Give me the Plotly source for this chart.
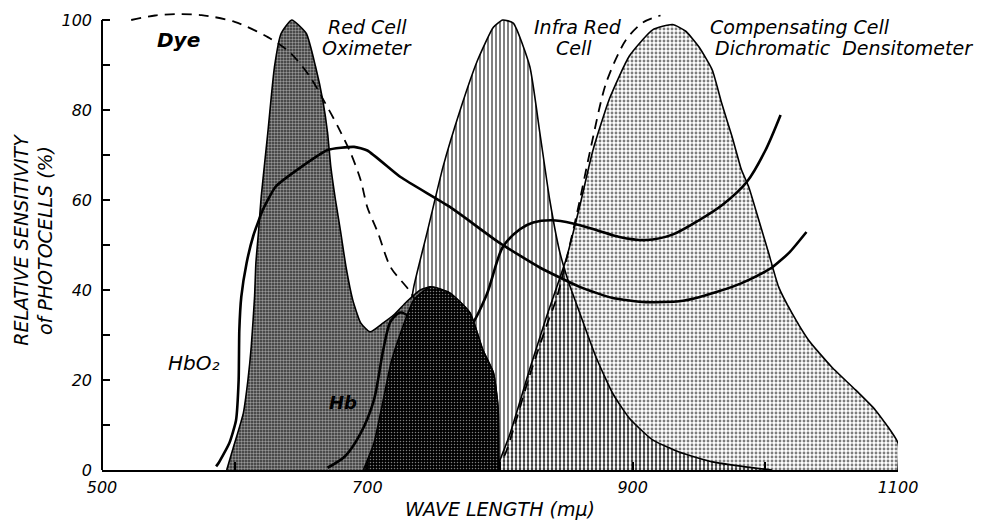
import plotly.graph_objects as go

# ---------------- data ----------------
# Compensating Cell (Dichromatic Densitometer) sensitivity
comp_x = [797, 807.5, 822.5, 835, 850, 860, 870, 882.5, 897.5, 915, 930, 940, 950, 960, 967, 975,
          982, 987.5, 995, 1002.5, 1010, 1020, 1032.5, 1050, 1068, 1083, 1100, 1100]
comp_y = [0, 8, 22.5, 34, 47, 58.5, 71, 82.5, 92, 97.8, 99, 97.5, 94, 88.9, 81.6, 74,
          66.7, 62.9, 55.6, 48.2, 40.7, 34.9, 28.9, 22.9, 17.8, 13.3, 6, 0]

# Infra Red Cell sensitivity
ir_x = [705, 715, 725, 735, 745, 757, 770, 783, 795, 802, 810, 822.5, 830, 837.5, 845, 852,
        860, 872.5, 885, 897.5, 915, 935, 960, 985, 1005]
ir_y = [0, 8, 22, 40.7, 52.7, 67.3, 80, 91, 98.4, 100, 99.3, 89.6, 75, 60, 48.5, 41.5,
        35, 25, 17, 11.5, 6.7, 4, 1.8, 0.7, 0]

# Red Cell Oximeter sensitivity
rc_x = [594, 599, 606.5, 610, 612.5, 615, 616, 618, 620, 625, 630, 635, 643, 654, 661, 666.5, 670,
        672.5, 676, 680, 684, 689, 695, 702, 712, 720, 730, 740, 748, 762, 777, 787, 795, 798.5, 799]
rc_y = [0, 5, 12.6, 20, 27.4, 38.5, 46, 53, 60.7, 75, 89.6, 97, 100, 97, 89.6, 82, 75,
        67.3, 60, 52.7, 45, 37.8, 32.7, 30.7, 32.7, 34.5, 37.5, 40, 40.7, 39.3, 35, 26.7, 21.6, 14, 0]

# dark overlap lobe (700-800 m\u03bc)
dk_x = [697, 705, 712, 718, 725, 735, 747.5, 762.5, 777.5, 787, 795, 798.5, 799]
dk_y = [0, 6, 15.6, 24, 30.4, 37.8, 40.7, 39.3, 34.9, 26.7, 21.6, 14, 0]

# HbO2 curve
ox_x = [586, 588, 596, 601, 603, 603.5, 605, 609, 614, 621.5, 631, 650, 670, 690, 700, 725, 762.5, 800,
        830, 860, 885, 910, 935, 950, 975, 990, 1005, 1018, 1031]
ox_y = [0.8, 1.6, 6, 11, 20, 31, 38.5, 46, 52, 58, 63, 67.3, 71.1, 71.8, 71, 65.1, 58.4, 50.4,
        45, 40.7, 38.2, 37.3, 37.5, 38.4, 40.7, 42.6, 45, 48.3, 52.9]

# Hb curve
hb_x = [670, 683, 695, 705, 712, 717.5, 725, 735, 750, 765, 777.5, 790, 802, 815, 825, 839, 855,
        873, 890, 910, 930, 950, 968, 986, 1000, 1011.5]
hb_y = [0.5, 3, 8.2, 15.6, 26.7, 33, 35, 33.5, 30, 29, 31.8, 39, 49.5, 53.5, 55, 55.5, 54.8,
        53.3, 51.8, 51.1, 52.3, 55.5, 59, 64, 71, 78.9]

# Dye curve (dashed)
dye_x = [522, 540, 555, 575, 600, 625, 642, 657, 667, 678, 687.5, 695, 700, 708, 717.5, 732.5,
         750, 765, 780, 790, 797, 803, 810, 822, 835, 843, 858, 868, 880, 895, 908, 921]
dye_y = [100, 101, 101.3, 101.1, 99.6, 96.2, 92.7, 87.3, 82.2, 76.2, 70.4, 64.4, 58.4, 52.7, 45.1, 39.5,
         30, 20, 10, 4, 1, 3, 9, 20.7, 32, 38.5, 57, 71, 86, 95.6, 99.5, 101]

x_ticks = [500, 700, 900, 1100]
x_labels = ["500", "700", "900", "1100"]
y_ticks = [0, 20, 40, 60, 80, 100]
y_labels = ["0", "20", "40", "60", "80", "100"]

FONT = "DejaVu Sans"
SM = 0.5

fig = go.Figure()

# Compensating cell: light dot screen
fig.add_trace(go.Scatter(
    x=comp_x, y=comp_y, mode="lines", fill="tozeroy",
    line=dict(color="black", width=1.6, shape="spline", smoothing=SM),
    fillpattern=dict(shape=".", size=4, solidity=0.4, fgcolor="black", bgcolor="white"),
    hoverinfo="skip"))

# Infra red cell: vertical line screen (transparent background so overlaps darken)
fig.add_trace(go.Scatter(
    x=ir_x, y=ir_y, mode="lines", fill="tozeroy",
    line=dict(color="black", width=1.6, shape="spline", smoothing=SM),
    fillpattern=dict(shape="|", size=4, solidity=0.5, fgcolor="black", bgcolor="rgba(0,0,0,0)"),
    fillcolor="rgba(0,0,0,0)",
    hoverinfo="skip"))

# Red cell oximeter: medium dark screen
fig.add_trace(go.Scatter(
    x=rc_x, y=rc_y, mode="lines", fill="tozeroy",
    line=dict(color="black", width=1.6, shape="spline", smoothing=SM),
    fillpattern=dict(shape=".", size=3, solidity=0.5, fgcolor="white", bgcolor="#303030"),
    hoverinfo="skip"))

# Dye (dashed) - drawn below the dark lobe, which hides its trough
fig.add_trace(go.Scatter(x=dye_x, y=dye_y, mode="lines",
                         line=dict(color="black", width=1.8, dash="10px,7px", shape="spline", smoothing=0.8),
                         hoverinfo="skip"))

# Hb curve
fig.add_trace(go.Scatter(x=hb_x, y=hb_y, mode="lines",
                         line=dict(color="black", width=2.6, shape="spline", smoothing=0.8),
                         hoverinfo="skip"))

# dark lobe
fig.add_trace(go.Scatter(
    x=dk_x, y=dk_y, mode="lines", fill="tozeroy",
    line=dict(color="black", width=1.6, shape="spline", smoothing=SM),
    fillpattern=dict(shape=".", size=3, solidity=0.2, fgcolor="white", bgcolor="black"),
    hoverinfo="skip"))

# HbO2 curve
fig.add_trace(go.Scatter(x=ox_x, y=ox_y, mode="lines",
                         line=dict(color="black", width=2.6, shape="spline", smoothing=SM),
                         hoverinfo="skip"))

tickfont = dict(family=FONT, size=16, color="black", style="italic")
ttl = dict(family=FONT, size=19, color="black", style="italic")
minor = dict(ticks="inside", ticklen=8, tickwidth=2, tickcolor="black", showgrid=False)

# page body has an 8px margin: size the figure so the plot area lands where the reference's does
fig.update_layout(
    width=977, height=513,
    margin=dict(l=94, r=87, t=3, b=51),
    paper_bgcolor="white", plot_bgcolor="white",
    showlegend=False,
    font=dict(family=FONT, color="black"),
    xaxis=dict(range=[500, 1100], showline=True, linecolor="black", linewidth=2,
               ticks="inside", ticklen=8, tickwidth=2, tickcolor="black",
               tickmode="array", tickvals=x_ticks, ticktext=x_labels, tickfont=tickfont,
               ticklabelstandoff=2,
               minor=dict(dtick=100, tick0=500, **minor),
               title=dict(text="WAVE LENGTH (m\u03bc)", font=ttl, standoff=6),
               showgrid=False, zeroline=False, fixedrange=True, automargin=False),
    yaxis=dict(range=[0, 102], showline=False,
               ticks="inside", ticklen=8, tickwidth=2, tickcolor="black",
               tickmode="array", tickvals=y_ticks, ticktext=y_labels, tickfont=tickfont,
               ticklabelstandoff=9,
               minor=dict(dtick=10, tick0=0, **minor),
               title=dict(text="RELATIVE SENSITIVITY<br>of PHOTOCELLS (%)", font=ttl, standoff=3),
               showgrid=False, zeroline=False, fixedrange=True, automargin=False),
    shapes=[dict(type="line", xref="paper", yref="y", x0=0, x1=0, y0=0, y1=100,
                 line=dict(color="black", width=2))],
)

lab = dict(family=FONT, size=19, color="black", style="italic")
annotations = [
    dict(x=558, y=95.5, text="Dye", font=dict(family=FONT, size=20, color="black", style="italic", weight="bold")),
    dict(x=700, y=98.5, text="Red Cell", font=lab),
    dict(x=700, y=93.7, text="Oximeter", font=lab),
    dict(x=859, y=98.5, text="Infra Red", font=lab),
    dict(x=855.5, y=93.7, text="Cell", font=lab),
    dict(x=1026, y=98.5, text="Compensating Cell", font=lab),
    dict(x=1059, y=93.7, text="Dichromatic  Densitometer", font=lab),
    dict(x=569, y=23.8, text="HbO\u2082", font=dict(family=FONT, size=20, color="black", style="italic")),
    dict(x=682, y=15, text="Hb", font=dict(family=FONT, size=18, color="black", style="italic", weight="bold")),
]
for a in annotations:
    a.update(xref="x", yref="y", showarrow=False, xanchor="center", yanchor="middle")
fig.update_layout(annotations=annotations)

fig.write_html("out.html")
